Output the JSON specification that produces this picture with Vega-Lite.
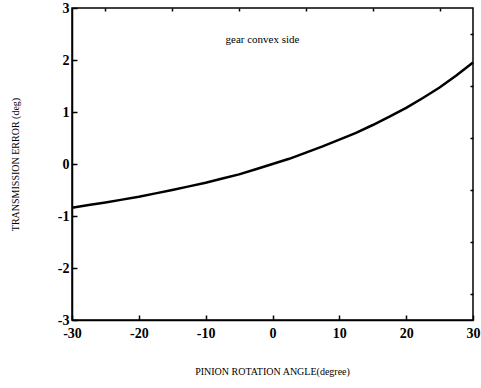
{
  "$schema": "https://vega.github.io/schema/vega-lite/v6.json",
  "width": 401,
  "height": 312,
  "autosize": {"type": "none"},
  "padding": {"left": 72, "top": 8, "right": 8, "bottom": 68},
  "background": "white",
  "config": {
    "view": {"stroke": "black", "strokeWidth": 1.5},
    "font": "Liberation Serif",
    "axis": {"grid": false, "domainColor": "black", "tickColor": "black", "labelColor": "black", "titleColor": "black", "labelFont": "Liberation Serif", "titleFont": "Liberation Serif", "titleFontWeight": "normal"}
  },
  "datasets": {
    "curve": [
      {"angle": -30, "te": -0.84},
      {"angle": -27.5, "te": -0.79},
      {"angle": -25, "te": -0.74},
      {"angle": -22.5, "te": -0.685},
      {"angle": -20, "te": -0.63},
      {"angle": -17.5, "te": -0.565},
      {"angle": -15, "te": -0.5},
      {"angle": -12.5, "te": -0.43},
      {"angle": -10, "te": -0.36},
      {"angle": -7.5, "te": -0.28},
      {"angle": -5, "te": -0.2},
      {"angle": -2.5, "te": -0.1},
      {"angle": 0, "te": 0.0},
      {"angle": 2.5, "te": 0.1},
      {"angle": 5, "te": 0.22},
      {"angle": 7.5, "te": 0.34},
      {"angle": 10, "te": 0.47},
      {"angle": 12.5, "te": 0.6},
      {"angle": 15, "te": 0.75},
      {"angle": 17.5, "te": 0.91},
      {"angle": 20, "te": 1.08},
      {"angle": 22.5, "te": 1.27},
      {"angle": 25, "te": 1.47},
      {"angle": 27.5, "te": 1.7},
      {"angle": 30, "te": 1.95}
    ],
    "label": [{"angle": -1.5, "te": 2.38, "text": "gear convex side"}]
  },
  "layer": [
    {
      "data": {"name": "curve"},
      "mark": {"type": "line", "color": "black", "strokeWidth": 2.5},
      "encoding": {
        "x": {"field": "angle", "type": "quantitative", "scale": {"domain": [-30, 30], "nice": false, "zero": false},
          "axis": {"values": [-30, -20, -10, 0, 10, 20, 30], "labelExpr": "toString(datum.value)", "title": "PINION ROTATION ANGLE(degree)", "titleFontSize": 10, "titleX": 200, "titleY": 46, "labelFontSize": 14, "labelFontWeight": "bold", "tickSize": -5, "tickWidth": 1.5, "domainWidth": 1.5, "labelPadding": 11, "labelFlush": false}},
        "y": {"field": "te", "type": "quantitative", "scale": {"domain": [-3, 3], "nice": false, "zero": false},
          "axis": {"values": [-3, -2, -1, 0, 1, 2, 3], "labelExpr": "toString(datum.value)", "title": "TRANSMISSION ERROR (deg)", "titleFontSize": 10, "titleX": -57, "titleY": 156, "titleAngle": -90, "titleAlign": "center", "titleBaseline": "middle", "labelFontSize": 14, "labelFontWeight": "bold", "tickSize": -5, "tickWidth": 1.5, "domainWidth": 1.5, "labelPadding": 8, "labelFlush": false}}
      }
    },
    {
      "data": {"name": "label"},
      "mark": {"type": "text", "fontSize": 11, "color": "black", "font": "Liberation Serif"},
      "encoding": {
        "x": {"field": "angle", "type": "quantitative", "axis": {"values": [-25, -15, -5, 5, 15, 25], "labels": false, "domain": false, "title": null, "tickSize": -3, "tickWidth": 1.5}},
        "y": {"field": "te", "type": "quantitative", "axis": {"values": [-2.5, -1.5, -0.5, 0.5, 1.5, 2.5], "labels": false, "domain": false, "title": null, "tickSize": -3, "tickWidth": 1.5}},
        "text": {"field": "text"}
      }
    }
  ],
  "resolve": {"axis": {"x": "independent", "y": "independent"}}
}
